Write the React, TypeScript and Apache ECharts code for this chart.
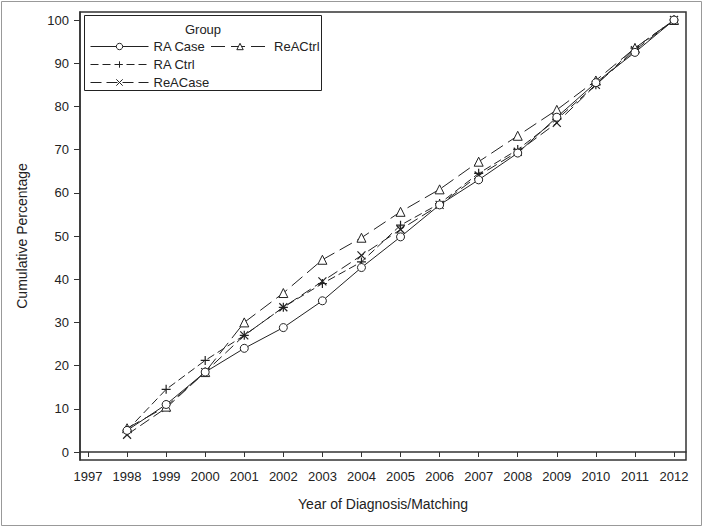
import React, { useEffect, useRef } from "react";
import * as echarts from "echarts";

const years = [1998, 1999, 2000, 2001, 2002, 2003, 2004, 2005, 2006, 2007, 2008, 2009, 2010, 2011, 2012];
const raCase = [5, 11, 18.5, 24, 28.8, 35, 42.7, 49.8, 57.2, 63, 69.2, 77.5, 85.5, 92.5, 100];
const reaCtrl = [5.5, 10.5, 18.5, 30, 36.8, 44.5, 49.6, 55.6, 60.8, 67.2, 73.2, 79.2, 86, 93.5, 100];
const raCtrl = [5, 14.5, 21.2, 27, 33.5, 39, 44, 52.5, 57.5, 64.5, 70, 77, 85, 93.5, 100];
const reaCase = [4, 10.2, 18.5, 27, 33.5, 39.5, 45.5, 51.5, 57.2, 64, 69.5, 76.2, 85, 93, 100];
const xTicks = [1997, 1998, 1999, 2000, 2001, 2002, 2003, 2004, 2005, 2006, 2007, 2008, 2009, 2010, 2011, 2012];
const yTicks = [0, 10, 20, 30, 40, 50, 60, 70, 80, 90, 100];

const FONT = "Liberation Sans";
const INK = "#222";

const plusSym = "path://M0,5L10,5M5,0L5,10";
const crossSym = "path://M1,1L9,9M9,1L1,9";

function pairs(vals: number[]) {
  return years.map((y, i) => [y, vals[i]]);
}

export default function App() {
  const ref = useRef<HTMLDivElement>(null);
  useEffect(() => {
    const chart = echarts.init(ref.current!, null, { renderer: "svg" });
    const mk = (name: string, vals: number[], symbol: string, dash: any, filled: boolean, size: number, z: number) => ({
      name,
      type: "line",
      data: pairs(vals),
      symbol,
      symbolSize: size,
      lineStyle: { color: INK, width: 1, type: dash },
      itemStyle: filled
        ? { color: "#fff", borderColor: INK, borderWidth: 1 }
        : { color: "rgba(0,0,0,0)", borderColor: INK, borderWidth: 1.2 },
      z,
    });
    const legendBase = {
      left: 85,
      orient: "horizontal",
      itemWidth: 58,
      itemHeight: 8,
      itemGap: 5,
      z: 20,
      lineStyle: { width: 1 },
      itemStyle: { borderWidth: 1 },
      textStyle: { fontFamily: FONT, fontSize: 13, color: INK },
      selectedMode: false,
    };
    chart.setOption({
      animation: false,
      backgroundColor: "#fff",
      grid: {
        left: 80,
        right: 17,
        top: 12,
        bottom: 67,
        show: true,
        borderColor: "#333",
        borderWidth: 1.5,
      },
      xAxis: {
        type: "value",
        min: 1997 - 8 / 39.07,
        max: 2012 + 12 / 39.07,
        name: "Year of Diagnosis/Matching",
        nameLocation: "middle",
        nameGap: 37,
        nameTextStyle: { fontFamily: FONT, fontSize: 14, color: INK },
        axisLine: { show: true, lineStyle: { color: "#333", width: 1.5 } },
        axisTick: { show: true, length: 5, customValues: xTicks, lineStyle: { color: "#333" } },
        axisLabel: {
          customValues: xTicks,
          fontFamily: FONT,
          fontSize: 13,
          color: INK,
          margin: 10,
          formatter: (v: number) => String(Math.round(v)),
        },
        splitLine: { show: false },
      },
      yAxis: {
        type: "value",
        min: -8 / 4.32,
        max: 100 + 8 / 4.32,
        name: "Cumulative Percentage",
        nameLocation: "middle",
        nameGap: 51,
        nameTextStyle: { fontFamily: FONT, fontSize: 14, color: INK },
        axisLine: { show: true, lineStyle: { color: "#333", width: 1.5 } },
        axisTick: { show: true, length: 6, customValues: yTicks, lineStyle: { color: "#333" } },
        axisLabel: {
          customValues: yTicks,
          fontFamily: FONT,
          fontSize: 13,
          color: INK,
          margin: 11,
          formatter: (v: number) => String(Math.round(v)),
        },
        splitLine: { show: false },
      },
      legend: [
        { ...legendBase, top: 35, data: ["RA Case", "ReACtrl"] },
        { ...legendBase, top: 53, data: ["RA Ctrl"] },
        { ...legendBase, top: 71, data: ["ReACase"] },
      ],
      graphic: [
        {
          type: "rect",
          shape: { x: 84.5, y: 15.5, width: 237, height: 75 },
          style: { fill: "#fff", stroke: "#222", lineWidth: 1 },
          z: 5,
          silent: true,
        },
        {
          type: "text",
          x: 203,
          y: 29,
          style: {
            text: "Group",
            fontFamily: FONT,
            fontSize: 13,
            fill: INK,
            align: "center",
            verticalAlign: "middle",
          },
          z: 6,
          silent: true,
        },
        {
          type: "rect",
          shape: { x: 1.5, y: 1.5, width: 700, height: 524 },
          style: { fill: "none", stroke: "#999", lineWidth: 1 },
          silent: true,
        },
      ],
      series: [
        mk("RA Case", raCase, "circle", "solid", true, 8, 6),
        mk("ReACtrl", reaCtrl, "triangle", [14, 6], true, 9, 5),
        mk("RA Ctrl", raCtrl, plusSym, [8, 4], false, 9, 4),
        mk("ReACase", reaCase, crossSym, [11, 5], false, 8, 3),
      ],
    });
    return () => chart.dispose();
  }, []);
  return (
    <div
      ref={ref}
      style={{ position: "fixed", left: 0, top: 0, width: 703, height: 527 }}
    />
  );
}
